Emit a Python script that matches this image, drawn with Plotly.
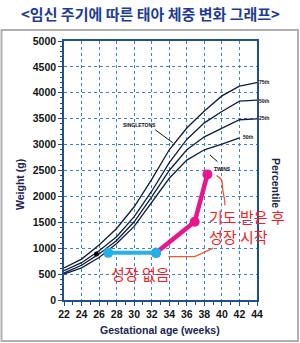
import plotly.graph_objects as go

# ---- data ----
weeks = [22, 24, 26, 28, 30, 32, 34, 36, 38, 40, 42, 44]
p75 = [620, 790, 1060, 1380, 1800, 2330, 2900, 3320, 3650, 3940, 4130, 4195]
p50 = [565, 720, 950, 1220, 1610, 2100, 2650, 3100, 3420, 3640, 3840, 3860]
p25 = [520, 670, 890, 1150, 1510, 1990, 2500, 2900, 3150, 3320, 3480, 3495]
twin_weeks = [22, 24, 26, 28, 30, 32, 34, 36, 38, 40, 42]
twin50 = [500, 620, 820, 1090, 1420, 1880, 2350, 2700, 2900, 3010, 3130]

no_growth_weeks = [27.05, 32.5]
no_growth_w = [910, 910]
growth_weeks = [32.5, 36.9, 38.35]
growth_w = [910, 1510, 2425]

dot_week = [25.7]
dot_w = [890]

callout1_x = [33.9, 36.9, 39.0]
callout1_y = [836, 836, 1000]
callout2_x = [39.4, 39.95, 40.1, 40.3, 40.35]
callout2_y = [2400, 2320, 2130, 1930, 1830]

x_ticks = list(range(22, 46, 2))
y_ticks = list(range(0, 5500, 500))

title_text = "<임신 주기에 따른 태아 체중 변화 그래프>"
note_none = "성장 없음"
note_start = "기도 받은 후<br>성장 시작"

# ---- geometry helpers (pixel -> paper) ----
L, R, T, B = 64, 257, 41, 300
def px(x):
    return (x - L) / (R - L)
def py(y):
    return (B - y) / (B - T)

curve_col = "#0d1f3c"
fig = go.Figure()
for ys in (p75, p50, p25):
    fig.add_trace(go.Scatter(x=weeks, y=ys, mode="lines",
                             line=dict(color=curve_col, width=1.3)))
fig.add_trace(go.Scatter(x=twin_weeks, y=twin50, mode="lines",
                         line=dict(color=curve_col, width=1.3)))

fig.add_trace(go.Scatter(x=callout1_x, y=callout1_y, mode="lines",
                         line=dict(color="#f25a28", width=1.3)))
fig.add_trace(go.Scatter(x=callout2_x, y=callout2_y, mode="lines",
                         line=dict(color="#f25a28", width=1.3, shape="spline")))

fig.add_trace(go.Scatter(x=growth_weeks, y=growth_w, mode="lines+markers",
                         line=dict(color="#e8168c", width=4.5),
                         marker=dict(color="#e8168c", size=10)))
fig.add_trace(go.Scatter(x=no_growth_weeks, y=no_growth_w, mode="lines+markers",
                         line=dict(color="#22b2e8", width=4),
                         marker=dict(color="#22b2e8", size=10)))
fig.add_trace(go.Scatter(x=dot_week, y=dot_w, mode="markers",
                         marker=dict(color="#000000", size=5)))

axis_col = "#1f4f8f"
grid_col = "#3f80d0"
tick_font = dict(family="Liberation Sans, Arial", size=10.5, color="#151515", weight="bold")
fig.update_xaxes(range=[22, 44], tickvals=x_ticks, showline=True, linecolor=axis_col,
                 linewidth=1.5, mirror=True, ticks="outside", ticklen=4, tickcolor=axis_col,
                 minor=dict(dtick=1, ticks="outside", ticklen=3, tickcolor=axis_col, showgrid=False),
                 showgrid=True, gridcolor=grid_col, griddash="dot", gridwidth=1.3,
                 zeroline=False, tickfont=tick_font)
fig.update_yaxes(range=[0, 5000], tickvals=y_ticks, showline=True, linecolor=axis_col,
                 linewidth=1.5, mirror=True, ticks="outside", ticklen=4, tickcolor=axis_col,
                 minor=dict(dtick=100, ticks="outside", ticklen=2, tickcolor=axis_col, showgrid=False),
                 showgrid=True, gridcolor=grid_col, griddash="dot", gridwidth=1.3,
                 zeroline=False, tickfont=tick_font)

kr = "Noto Sans CJK KR"
lab_font = dict(family="Liberation Sans, Arial", size=10.5, color="#1a2550", weight="bold")
tiny = dict(family="Liberation Sans, Arial", size=5, color="#111", weight="bold")
ann = [
    dict(x=px(150), y=py(14), text=title_text,
         font=dict(family=kr, size=15, color="#1e3c96", weight="bold")),
    dict(x=px(20), y=py(185), text="Weight (g)", textangle=-90, font=lab_font),
    dict(x=px(276), y=py(183), text="Percentile", textangle=90, font=lab_font),
    dict(x=px(160), y=py(330), text="Gestational age (weeks)", font=lab_font),
    dict(x=px(140), y=py(273), text=note_none,
         font=dict(family=kr, size=15, color="#f01e23")),
    dict(x=px(207), y=py(226), text=note_start, xanchor="left", align="left",
         font=dict(family=kr, size=15, color="#f01e23")),
    dict(x=px(264), y=py(82), text="75th", font=tiny),
    dict(x=px(264), y=py(100.7), text="50th", font=tiny),
    dict(x=px(264), y=py(118.5), text="25th", font=tiny),
    dict(x=px(247.5), y=py(137), text="50th", font=tiny),
    dict(x=px(139), y=py(125), text="SINGLETONS", font=tiny),
    dict(x=px(222.5), y=py(169), text="TWINS", font=tiny),
]
annotations = []
for a in ann:
    d = dict(xref="paper", yref="paper", showarrow=False, yanchor="middle")
    d.setdefault("xanchor", "center")
    d.update(a)
    annotations.append(d)
# pointer arrows
annotations.append(dict(xref="paper", yref="paper", axref="pixel", ayref="pixel",
                        x=px(172.7), y=py(142.7), ax=-19, ay=-14, text="",
                        showarrow=True, arrowhead=0, arrowwidth=1, arrowcolor="#111"))
annotations.append(dict(xref="paper", yref="paper",
                        x=px(210), y=py(155), ax=9, ay=8, text="",
                        showarrow=True, arrowhead=0, arrowwidth=1, arrowcolor="#111"))

shapes = [dict(type="rect", xref="paper", yref="paper",
               x0=px(1.5), x1=px(298), y0=py(341), y1=py(30),
               line=dict(color="#b0b0b0", width=2), layer="below")]

fig.update_layout(width=300, height=343, margin=dict(l=L, r=300 - R, t=T, b=343 - B),
                  paper_bgcolor="white", plot_bgcolor="white", showlegend=False,
                  annotations=annotations, shapes=shapes)

fig.write_html("out.html")
